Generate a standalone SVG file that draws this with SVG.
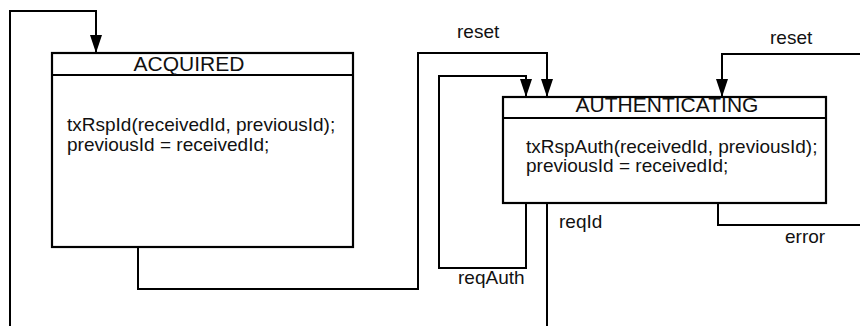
<svg xmlns="http://www.w3.org/2000/svg" width="860" height="326" viewBox="0 0 860 326">
  <defs>
    <marker id="arrow" viewBox="0 0 18 12" markerWidth="18" markerHeight="12" refX="18" refY="6" orient="auto" markerUnits="userSpaceOnUse">
      <path d="M0,0 L18,6 L0,12 Z" fill="#000"/>
    </marker>
    <style>
      .box { fill: #fff; stroke: #000; stroke-width: 2.2; }
      .sep { stroke: #000; stroke-width: 2.2; }
      .wire { fill: none; stroke: #000; stroke-width: 2; }
      .title { font-family: "Liberation Sans", Arial, sans-serif; font-size: 21px; fill: #111; text-anchor: middle; }
      .body { font-family: "Liberation Sans", Arial, sans-serif; font-size: 19px; fill: #111; }
      .lbl { font-family: "Liberation Sans", Arial, sans-serif; font-size: 19px; fill: #111; }
    </style>
  </defs>
  <rect width="860" height="326" fill="#fff"/>

  <!-- transitions -->
  <g id="connectors">
    <!-- outer loop into ACQUIRED -->
    <path class="wire" d="M10,326 L10,11 L96,11 L96,53" marker-end="url(#arrow)"/>
    <!-- ACQUIRED -> AUTHENTICATING -->
    <path class="wire" d="M138,247 L138,289 L418,289 L418,53 L547,53 L547,97" marker-end="url(#arrow)"/>
    <!-- reqAuth self loop -->
    <path class="wire" d="M526,203 L526,268 L439,268 L439,76 L526,76 L526,97" marker-end="url(#arrow)"/>
    <!-- reset from the right -->
    <path class="wire" d="M860,54 L722,54 L722,97" marker-end="url(#arrow)"/>
    <!-- reqId leaving downwards -->
    <path class="wire" d="M547,203 L547,326"/>
    <!-- error leaving to the right -->
    <path class="wire" d="M718,203 L718,225 L860,225"/>

    <text class="lbl" x="457" y="38">reset</text>
    <text class="lbl" x="770" y="44">reset</text>
    <text class="lbl" x="458" y="284">reqAuth</text>
    <text class="lbl" x="559" y="228">reqId</text>
    <text class="lbl" x="785" y="243">error</text>
  </g>

  <!-- ACQUIRED state -->
  <g id="acquired">
    <rect class="box" x="52" y="53" width="301" height="194"/>
    <line class="sep" x1="52" y1="75" x2="353" y2="75"/>
    <text class="title" x="189" y="71">ACQUIRED</text>
    <text class="body" x="67" y="131">txRspId(receivedId, previousId);</text>
    <text class="body" x="67" y="151">previousId = receivedId;</text>
  </g>

  <!-- AUTHENTICATING state -->
  <g id="authenticating">
    <rect class="box" x="503" y="97" width="323" height="106"/>
    <line class="sep" x1="503" y1="118" x2="826" y2="118"/>
    <text class="title" x="667" y="112">AUTHENTICATING</text>
    <text class="body" x="526" y="153">txRspAuth(receivedId, previousId);</text>
    <text class="body" x="526" y="172">previousId = receivedId;</text>
  </g>
</svg>
